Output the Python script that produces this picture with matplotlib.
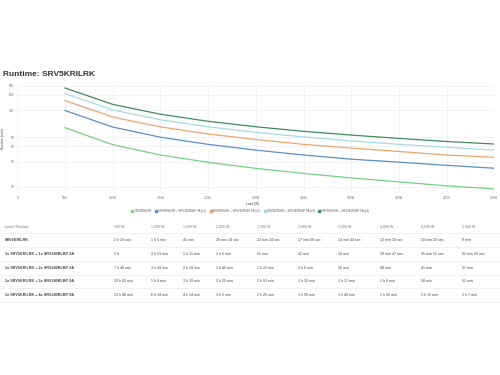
import matplotlib
matplotlib.use("Agg")
import matplotlib.pyplot as plt
from matplotlib.lines import Line2D
from matplotlib.ticker import FixedLocator, FuncFormatter, NullLocator

plt.rcParams['font.family'] = ['Liberation Sans', 'DejaVu Sans']

# data (load in W, runtime as shown)
loads = [500, 1000, 1500, 2000, 2500, 3000, 3500, 4000, 4500, 5000]
runtime_base = ["2 h 19 min", "1 h 5 min", "41 min", "29 min 34 sec", "22 min 34 sec",
                "17 min 58 sec", "14 min 44 sec", "12 min 19 sec", "10 min 20 sec", "9 min"]
runtime_x1 = ["5 h", "2 h 23 min", "1 h 31 min", "1 h 6 min", "51 min",
              "41 min", "34 min", "29 min 47 sec", "25 min 51 sec", "22 min 43 sec"]
runtime_x2 = ["7 h 48 min", "3 h 44 min", "2 h 24 min", "1 h 45 min", "1 h 22 min",
              "1 h 6 min", "56 min", "48 min", "41 min", "37 min"]
runtime_x3 = ["10 h 42 min", "5 h 8 min", "3 h 18 min", "2 h 25 min", "1 h 53 min",
              "1 h 32 min", "1 h 17 min", "1 h 6 min", "58 min", "51 min"]
runtime_x4 = ["13 h 40 min", "6 h 34 min", "4 h 14 min", "3 h 5 min", "2 h 25 min",
              "1 h 58 min", "1 h 40 min", "1 h 26 min", "1 h 15 min", "1 h 7 min"]

legend_labels = ["SRV5KRILRK",
                 "SRV5KRILRK + SRV240RLBP-9A (x1)",
                 "SRV5KRILRK + SRV240RLBP-9A (x2)",
                 "SRV5KRILRK + SRV240RLBP-9A (x3)",
                 "SRV5KRILRK + SRV240RLBP-9A (x4)"]
row_labels = ["SRV5KRILRK",
              "1x SRV5KRILRK + 1x SRV240RLBP-9A",
              "1x SRV5KRILRK + 2x SRV240RLBP-9A",
              "1x SRV5KRILRK + 3x SRV240RLBP-9A",
              "1x SRV5KRILRK + 4x SRV240RLBP-9A"]
y_ticks = [10, 30, 60, 90, 300, 600, 900]
x_ticks = [0, 500, 1000, 1500, 2000, 2500, 3000, 3500, 4000, 4500, 5000]

colors = ['#74d37f', '#5a8fca', '#f2a46e', '#a6dbe6', '#3f8c5c']


def to_minutes(s):
    parts = s.split()
    units = {'h': 60.0, 'min': 1.0, 'sec': 1 / 60.0}
    return sum(float(n) * units[u] for n, u in zip(parts[::2], parts[1::2]))


rows = [runtime_base, runtime_x1, runtime_x2, runtime_x3, runtime_x4]

W, H = 500, 375
fig = plt.figure(figsize=(5, 3.75), dpi=100)


def fx(px):
    return px / W


def fy(py):
    return 1 - py / H


# title
fig.text(fx(3), fy(75), "Runtime: SRV5KRILRK", fontsize=6, fontweight='bold',
         color='#333333', va='center', ha='left')

# chart
ax = fig.add_axes([fx(17.3), fy(193), fx(494.3) - fx(17.3), fy(84) - fy(193)])
for vals, col, lab in zip(rows, colors, legend_labels):
    ax.plot(loads, [to_minutes(v) for v in vals], color=col, lw=0.9, label=lab)

ax.set_yscale('log')
ax.set_xlim(0, 5000)
ax.set_ylim(7.5, 980)
ax.yaxis.set_major_locator(FixedLocator(y_ticks))
ax.yaxis.set_minor_locator(NullLocator())
ax.yaxis.set_major_formatter(FuncFormatter(lambda v, p: f"{v:g}"))
ax.xaxis.set_major_locator(FixedLocator(x_ticks))
ax.xaxis.set_major_formatter(FuncFormatter(lambda v, p: f"{int(v):,}"))
ax.tick_params(length=0, labelsize=2.3, colors='#666666', pad=2)
ax.grid(True, color='#eeeeee', lw=0.5)
for s in ax.spines.values():
    s.set_visible(False)
ax.set_ylabel("Runtime (min)", fontsize=2.3, color='#444444', labelpad=3)

fig.text(fx(253), fy(204), "Load (W)", fontsize=2.3, color='#444444', ha='center', va='center')

handles = [Line2D([], [], marker='s', ls='none', color=c, markersize=1.5) for c in colors]
fig.legend(handles, legend_labels, loc='center', bbox_to_anchor=(fx(250), fy(211)),
           ncol=5, frameon=False, fontsize=2, handletextpad=0.3, columnspacing=1.2,
           handlelength=0.8, labelcolor='#555555')

# table
col_x = [5, 114, 151, 183, 216, 257, 298, 338, 380, 421, 462]
head_y = 226.7
row_y = [240, 253.7, 267.7, 281.3, 295]
line_y = [233.3, 246.7, 261, 274.5, 288, 301.7]

fig.text(fx(col_x[0]), fy(head_y), "Load / Runtime", fontsize=2.5, color='#777777', va='center')
for x, ld in zip(col_x[1:], loads):
    fig.text(fx(x), fy(head_y), f"{ld:,} W", fontsize=2.5, color='#777777', va='center')

for ry, lab, vals in zip(row_y, row_labels, rows):
    fig.text(fx(col_x[0]), fy(ry), lab, fontsize=2.7, fontweight='bold', color='#444444', va='center')
    for x, v in zip(col_x[1:], vals):
        fig.text(fx(x), fy(ry), v, fontsize=2.6, color='#444444', va='center')

for ly in line_y:
    fig.add_artist(Line2D([0, 1], [fy(ly), fy(ly)], color='#ececec', lw=0.5))

fig.savefig("out.png", dpi=100, facecolor='white')
